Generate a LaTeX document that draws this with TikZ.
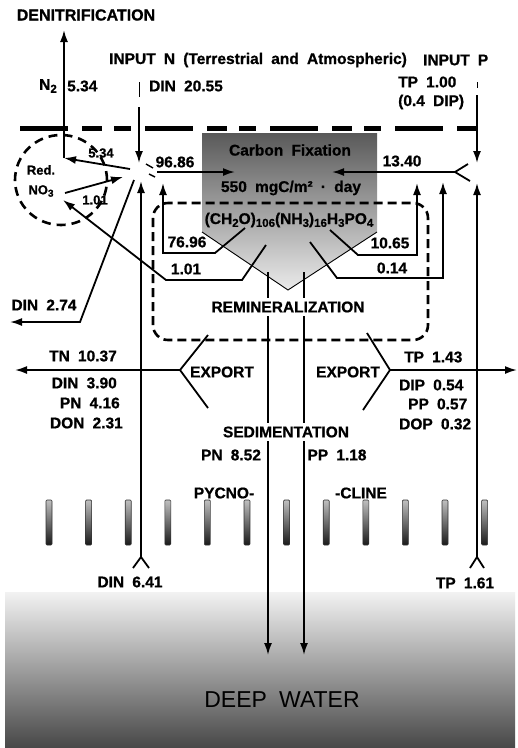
\documentclass[tikz,border=0pt]{standalone}
\usepackage{fontspec}
\setmainfont{Liberation Sans}[WordSpace=1.9, BoldFeatures={FakeBold=0.8}]
\usetikzlibrary{arrows.meta}
\newcommand\lsub[1]{\raisebox{-0.35ex}{\fontsize{11.5}{12}\selectfont #1}}
\newcommand\ssub[1]{\raisebox{-0.35ex}{\fontsize{10}{11}\selectfont #1}}
\newcommand\fnt{\fontsize{15.5}{18}\selectfont\bfseries}
\begin{document}
\begin{tikzpicture}[x=1pt,y=-1pt,
  lab/.style={font=\fnt, inner sep=1pt},
  smlab/.style={font=\fontsize{13}{15}\selectfont\bfseries, inner sep=1pt},
  flow/.style={line width=1.8pt, -{Latex[length=12pt,width=8pt]}},
  ln/.style={line width=1.8pt},
  vline/.style={line width=0.9pt},
  surf/.style={line width=5pt, dash pattern=on 48pt off 14pt on 20pt off 12pt on 17pt off 14pt},
  zone/.style={line width=2.6pt, dash pattern=on 9pt off 5pt, rounded corners=15pt},
  bar/.style={top color=black!25, bottom color=black!90, draw=black!80, line width=0.6pt},
]
\useasboundingbox (0,0) rectangle (518,748);
\fill[white] (0,0) rectangle (518,748);

% deep water
\shade[top color=black!5, middle color=black!32, bottom color=black!72] (5,592) rectangle (515,748);

% carbon fixation box
\coordinate (bTL) at (202,133); \coordinate (bTR) at (377,133);
\coordinate (bBR) at (377,232); \coordinate (bV) at (288,290); \coordinate (bBL) at (202,232);
\shade[top color=black!65, bottom color=black!8] (bTL) -- (bTR) -- (bBR) -- (bV) -- (bBL) -- cycle;
\draw[vline] (bBL) -- (bV) -- (bBR);

% sea surface
\coordinate (sL) at (20,128); \coordinate (sR) at (478,128);
\draw[surf] (sL) -- (sR);

% remineralization zone
\coordinate (zTL) at (153,203); \coordinate (zBR) at (428,340);
\draw[zone] (zTL) rectangle (zBR);

% reduced NO3 zone
\coordinate (redc) at (61,180);
\draw[line width=2.6pt, dash pattern=on 9pt off 6pt] (redc) ellipse [x radius=46pt, y radius=45pt];

% pycnocline bars
\foreach \i in {0,...,11} \draw[bar, rounded corners=1pt] ({46+39.6*\i},500) rectangle ++(6,45);

% coordinates of flows
\coordinate (star) at (143,170);
\coordinate (s534) at (130,169); \coordinate (n2c) at (64,158); \coordinate (n2t) at (64,30);
\coordinate (inNa) at (139,82); \coordinate (inNb) at (139,97);
\coordinate (inNc) at (139,107); \coordinate (inNd) at (139,163);
\coordinate (inPa) at (477,82); \coordinate (inPb) at (477,88);
\coordinate (inPc) at (477,95); \coordinate (inPd) at (477,163);
\coordinate (pv) at (455,172); \coordinate (pvu) at (468,164); \coordinate (pvd) at (470,181);
\coordinate (p1340) at (332,172);
\coordinate (a9686) at (157,172); \coordinate (b9686) at (235,172);
\coordinate (r1) at (65,193); \coordinate (r2) at (123,177);
\coordinate (d1) at (134,180); \coordinate (d2) at (80,322); \coordinate (d3) at (10,322);
\coordinate (c1) at (245,228); \coordinate (c2) at (215,253); \coordinate (c3) at (163,253); \coordinate (c4) at (163,183);
\coordinate (e1) at (266,245); \coordinate (e2) at (242,280); \coordinate (e3) at (166,280); \coordinate (e4) at (63,200);
\coordinate (f1) at (330,230); \coordinate (f2) at (358,255); \coordinate (f3) at (417,255); \coordinate (f4) at (417,183);
\coordinate (g1) at (310,242); \coordinate (g2) at (337,278); \coordinate (g3) at (443,278); \coordinate (g4) at (443,182);
\coordinate (uL) at (141,557); \coordinate (uLt) at (141,181);
\coordinate (uLa) at (133,568); \coordinate (uLb) at (149,568);
\coordinate (uR) at (477,557); \coordinate (uRt) at (477,183);
\coordinate (uRa) at (470,568); \coordinate (uRb) at (484,568);
\coordinate (xL) at (180,370); \coordinate (xLu) at (208,335); \coordinate (xLd) at (208,408); \coordinate (xLe) at (15,370);
\coordinate (xR) at (390,370); \coordinate (xRu) at (367,333); \coordinate (xRd) at (363,410); \coordinate (xRe) at (517,370);
\coordinate (sd1) at (268,272); \coordinate (sd1e) at (268,655);
\coordinate (sd2) at (304,272); \coordinate (sd2e) at (304,655);

% flows
\draw[flow] (s534) -- (n2c);
\draw[flow] (n2c) -- (n2t);
\draw[line width=1pt] (inNa) -- (inNb);
\draw[flow] (inNc) -- (inNd);
\draw[line width=1pt] (inPa) -- (inPb);
\draw[flow] (inPc) -- (inPd);
\draw[ln] (pvu) -- (pv) -- (pvd);
\draw[flow] (pv) -- (p1340);
\draw[flow] (a9686) -- (b9686);
\draw[line width=1.4pt] (146,164) -- (153,168);
\draw[line width=1.4pt] (149,174) -- (155,177);
\draw[flow] (r1) -- (r2);
\draw[flow] (d1) -- (d2) -- (d3);
\draw[flow] (c1) -- (c2) -- (c3) -- (c4);
\draw[flow] (e1) -- (e2) -- (e3) -- (e4);
\draw[flow] (f1) -- (f2) -- (f3) -- (f4);
\draw[flow] (g1) -- (g2) -- (g3) -- (g4);
\draw[flow] (uL) -- (uLt);
\draw[ln] (uLa) -- (uL) -- (uLb);
\draw[flow] (uR) -- (uRt);
\draw[ln] (uRa) -- (uR) -- (uRb);
\draw[ln] (xLu) -- (xL) -- (xLd);
\draw[flow] (xL) -- (xLe);
\draw[ln] (xRu) -- (xR) -- (xRd);
\draw[flow] (xR) -- (xRe);
\draw[flow] (sd1) -- (sd1e);
\draw[flow] (sd2) -- (sd2e);

% texts
\node[lab, font=\fontsize{16}{18}\selectfont\bfseries] (denit) at (86,15) {DENITRIFICATION};
\node[lab, anchor=east] (n2) at (58,86) {N\lsub{2}};
\node[lab, anchor=west] (n2v) at (66,86) {5.34};
\node[lab, anchor=west] (inN) at (108,60) {INPUT N (Terrestrial and Atmospheric)};
\node[lab, anchor=west] (inP) at (422,60) {INPUT P};
\node[lab, anchor=west] (din2055) at (148,86) {DIN 20.55};
\node[lab, anchor=west] (tp100) at (397,82) {TP 1.00};
\node[lab, anchor=west] (dip04) at (397,102) {(0.4 DIP)};
\node[smlab] (l534) at (101,153) {5.34};
\node[smlab] (red) at (41,170) {Red.};
\node[smlab] (no3) at (41,191) {NO\ssub{3}};
\node[smlab] (l101a) at (95,200) {1.01};
\node[lab] (l9686) at (175,162) {96.86};
\node[lab] (l1340) at (402,161) {13.40};
\node[lab] (cfix) at (290,150) {Carbon Fixation};
\node[lab] (rate) at (291,188) {550 mgC/m² · day};
\node[lab] (formula) at (289,220) {(CH\lsub{2}O)\lsub{106}(NH\lsub{3})\lsub{16}H\lsub{3}PO\lsub{4}};
\node[lab] (l7696) at (187,242) {76.96};
\node[lab] (l101b) at (186,269) {1.01};
\node[lab] (l1065) at (390,243) {10.65};
\node[lab] (l014) at (392,268) {0.14};
\node[lab, fill=white, inner sep=4pt] (remin) at (288,307) {REMINERALIZATION};
\node[lab] (din274) at (44,305) {DIN 2.74};
\node[lab, anchor=east] (tn) at (118,356) {TN 10.37};
\node[lab, anchor=east] (din390) at (118,383) {DIN 3.90};
\node[lab, anchor=east] (pn416) at (121,403) {PN 4.16};
\node[lab, anchor=east] (don) at (124,423) {DON 2.31};
\node[lab] (expL) at (222,372) {EXPORT};
\node[lab] (expR) at (348,372) {EXPORT};
\node[lab, anchor=west] (tp143) at (403,357) {TP 1.43};
\node[lab, anchor=west] (dip054) at (398,385) {DIP 0.54};
\node[lab, anchor=west] (pp057) at (407,404) {PP 0.57};
\node[lab, anchor=west] (dop) at (398,424) {DOP 0.32};
\node[lab, fill=white, inner sep=4pt] (sedim) at (286,432) {SEDIMENTATION};
\node[lab] (pn852) at (231,455) {PN 8.52};
\node[lab] (pp118) at (337,455) {PP 1.18};
\node[lab] (pyc) at (224,493) {PYCNO-};
\node[lab] (cline) at (361,493) {-CLINE};
\node[lab] (din641) at (130,582) {DIN 6.41};
\node[lab] (tp161) at (465,583) {TP 1.61};
\node[font=\fontsize{23}{26}\selectfont, inner sep=1pt] (deep) at (282,700) {DEEP WATER};
\end{tikzpicture}
\end{document}
